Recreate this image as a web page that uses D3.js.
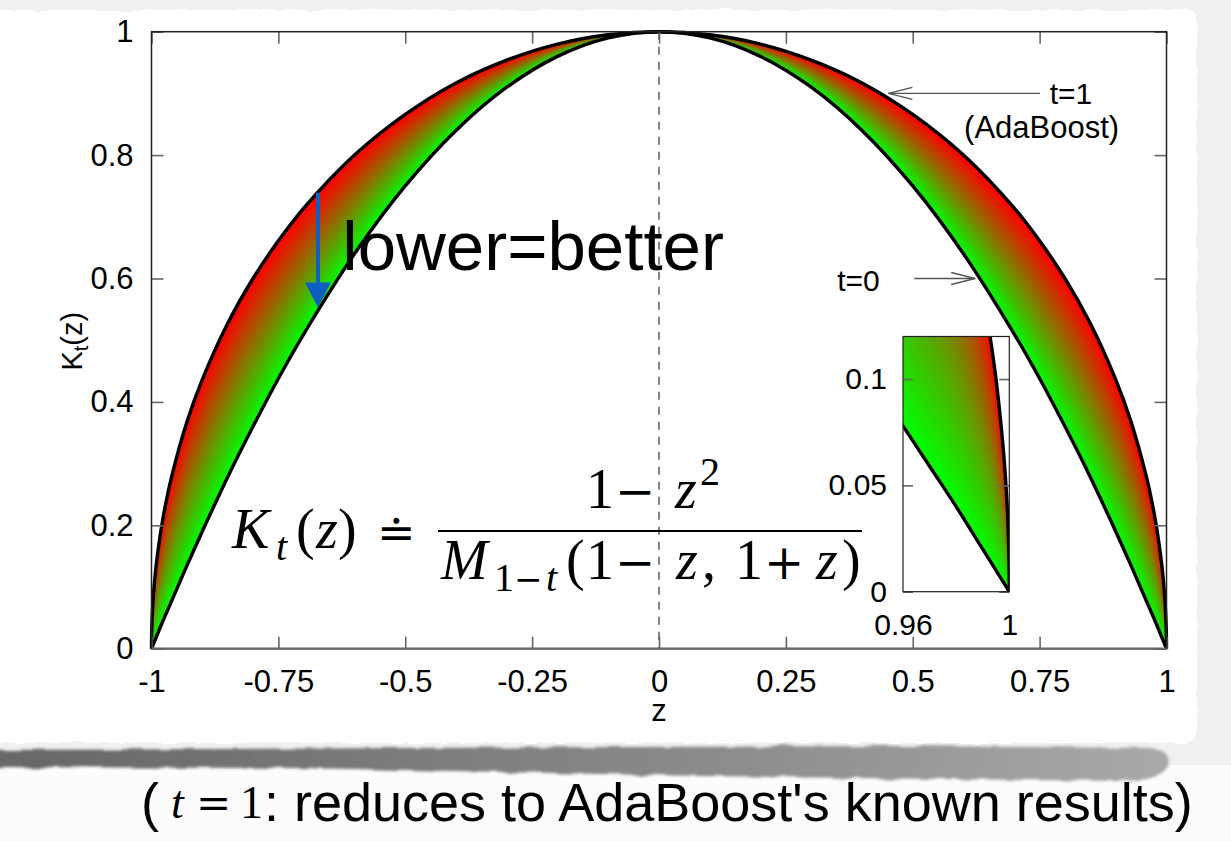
<!DOCTYPE html>
<html>
<head>
<meta charset="utf-8">
<script src="https://cdn.jsdelivr.net/npm/d3@7"></script>
<style>
  body { margin: 0; background: #f1f1f1; }
  svg { display: block; }
</style>
</head>
<body>
<svg id="chart" width="1231" height="841"></svg>
<script>
// values
const zValues = [-1, -0.9999, -0.9995, -0.999, -0.998, -0.997, -0.995, -0.993, -0.99, -0.98, -0.97, -0.96,
  -0.93, -0.9, -0.85, -0.8, -0.75, -0.7, -0.6, -0.5, -0.4, -0.3, -0.2, -0.1, 0,
  0.1, 0.2, 0.3, 0.4, 0.5, 0.6, 0.7, 0.75, 0.8, 0.85, 0.9, 0.93,
  0.96, 0.97, 0.98, 0.99, 0.993, 0.995, 0.997, 0.998, 0.999, 0.9995, 0.9999, 1];
// t=1 (AdaBoost), upper curve
const kAdaBoost = [0, 0.014, 0.032, 0.045, 0.063, 0.077, 0.1, 0.118, 0.141, 0.199, 0.243, 0.28,
  0.368, 0.436, 0.527, 0.6, 0.661, 0.714, 0.8, 0.866, 0.917, 0.954, 0.98, 0.995, 1,
  0.995, 0.98, 0.954, 0.917, 0.866, 0.8, 0.714, 0.661, 0.6, 0.527, 0.436, 0.368,
  0.28, 0.243, 0.199, 0.141, 0.118, 0.1, 0.077, 0.063, 0.045, 0.032, 0.014, 0];
// t=0, lower curve
const kT0 = [0, 0.0002, 0.001, 0.002, 0.004, 0.006, 0.01, 0.014, 0.02, 0.04, 0.059, 0.078,
  0.135, 0.19, 0.278, 0.36, 0.438, 0.51, 0.64, 0.75, 0.84, 0.91, 0.96, 0.99, 1,
  0.99, 0.96, 0.91, 0.84, 0.75, 0.64, 0.51, 0.438, 0.36, 0.278, 0.19, 0.135,
  0.078, 0.059, 0.04, 0.02, 0.014, 0.01, 0.006, 0.004, 0.002, 0.001, 0.0002, 0];

const xTicks = [-1, -0.75, -0.5, -0.25, 0, 0.25, 0.5, 0.75, 1];
const xTickLabels = ["-1", "-0.75", "-0.5", "-0.25", "0", "0.25", "0.5", "0.75", "1"];
const yTicks = [0, 0.2, 0.4, 0.6, 0.8, 1];
const yTickLabels = ["0", "0.2", "0.4", "0.6", "0.8", "1"];
const insetXTicks = [0.96, 1];
const insetXTickLabels = ["0.96", "1"];
const insetYTicks = [0, 0.05, 0.1];
const insetYTickLabels = ["0", "0.05", "0.1"];

const sans = "'Liberation Sans', Arial, sans-serif";
const serif = "'Liberation Serif', 'DejaVu Serif', serif";
const mathOp = "'DejaVu Serif', serif";

const svg = d3.select("#chart");
const defs = svg.append("defs");

// rough paper edge
const rough = defs.append("filter").attr("id", "rough").attr("x", "-5%").attr("y", "-5%")
  .attr("width", "110%").attr("height", "110%");
rough.append("feTurbulence").attr("type", "fractalNoise").attr("baseFrequency", "0.06")
  .attr("numOctaves", 2).attr("seed", 3).attr("result", "noise");
rough.append("feDisplacementMap").attr("in", "SourceGraphic").attr("in2", "noise")
  .attr("scale", 5).attr("xChannelSelector", "R").attr("yChannelSelector", "G");

const blur = defs.append("filter").attr("id", "blur").attr("x", "-5%").attr("y", "-50%")
  .attr("width", "110%").attr("height", "200%");
blur.append("feTurbulence").attr("type", "fractalNoise").attr("baseFrequency", "0.04")
  .attr("numOctaves", 2).attr("seed", 7).attr("result", "noise");
blur.append("feDisplacementMap").attr("in", "SourceGraphic").attr("in2", "noise")
  .attr("scale", 6).attr("xChannelSelector", "R").attr("yChannelSelector", "G").attr("result", "d");
blur.append("feGaussianBlur").attr("in", "d").attr("stdDeviation", 1.6);

const shadowGrad = defs.append("linearGradient").attr("id", "shadowGrad");
shadowGrad.append("stop").attr("offset", "0").attr("stop-color", "#666");
shadowGrad.append("stop").attr("offset", "0.6").attr("stop-color", "#8a8a8a");
shadowGrad.append("stop").attr("offset", "1").attr("stop-color", "#a9a9a9");

// background of the slide
svg.append("rect").attr("width", 1231).attr("height", 841).attr("fill", "#f0f0f0");
svg.append("rect").attr("y", 765).attr("width", 1231).attr("height", 76).attr("fill", "#fcfcfc");

// shadow under the card
svg.append("path")
  .attr("d", "M-10,750 L400,748 L900,746 L1150,748 Q1172,752 1168,766 Q1160,782 1120,781 L700,776 L300,768 L-10,767 Z")
  .attr("fill", "url(#shadowGrad)")
  .attr("filter", "url(#blur)");

// white card
svg.append("path")
  .attr("d", "M-10,10 L1190,10 Q1197,10 1197,18 L1197,730 Q1197,743 1184,743 L-10,743 Z")
  .attr("fill", "#fff")
  .attr("filter", "url(#rough)");

// main plot
const pLeft = 151.5, pRight = 1166.5, pTop = 31.7, pBottom = 648.7;
const x = d3.scaleLinear().domain([-1, 1]).range([pLeft, pRight]);
const y = d3.scaleLinear().domain([0, 1]).range([pBottom, pTop]);

const bandColor = d3.interpolateRgb("#00ff00", "#ff0000");
const shadeSteps = d3.range(90, 0, -1).map(k => k / 90);

function drawBand(g, xs, ys) {
  shadeSteps.forEach(f => {
    const area = d3.area()
      .x((d, i) => xs(zValues[i]))
      .y0((d, i) => ys(kT0[i]))
      .y1((d, i) => ys(kT0[i] + f * (kAdaBoost[i] - kT0[i])))
      .curve(d3.curveCatmullRom.alpha(0.5));
    g.append("path").datum(zValues).attr("d", area).attr("fill", bandColor(f));
  });
  const line = (vals) => d3.line()
    .x((d, i) => xs(zValues[i]))
    .y((d, i) => ys(vals[i]))
    .curve(d3.curveCatmullRom.alpha(0.5));
  g.append("path").datum(zValues).attr("d", line(kAdaBoost))
    .attr("fill", "none").attr("stroke", "#000").attr("stroke-width", 3.4);
  g.append("path").datum(zValues).attr("d", line(kT0))
    .attr("fill", "none").attr("stroke", "#000").attr("stroke-width", 3.4);
}

const plot = svg.append("g");
drawBand(plot, x, y);

// dashed z=0 line
plot.append("line")
  .attr("x1", x(0)).attr("x2", x(0)).attr("y1", pTop).attr("y2", pBottom)
  .attr("stroke", "#333").attr("stroke-width", 1.2).attr("stroke-dasharray", "8,7");

// ticks on all four sides
function styleAxis(size) {
  return g => {
    g.select(".domain").remove();
    g.selectAll(".tick line").attr("stroke", "#666").attr("stroke-width", 1.6);
    g.selectAll("text").attr("font-family", sans).attr("font-size", size).attr("fill", "#000");
  };
}
svg.append("g").attr("transform", `translate(0,${pBottom})`)
  .call(d3.axisBottom(x).tickValues(xTicks).tickSize(-12).tickPadding(21)
    .tickFormat((d, i) => xTickLabels[i]))
  .call(styleAxis(31));
svg.append("g").attr("transform", `translate(0,${pTop})`)
  .call(d3.axisTop(x).tickValues(xTicks).tickSize(-12).tickFormat(""))
  .call(styleAxis(31));
svg.append("g").attr("transform", `translate(${pLeft},0)`)
  .call(d3.axisLeft(y).tickValues(yTicks).tickSize(-12).tickPadding(18)
    .tickFormat((d, i) => yTickLabels[i]))
  .call(styleAxis(31));
svg.append("g").attr("transform", `translate(${pRight},0)`)
  .call(d3.axisRight(y).tickValues(yTicks).tickSize(-12).tickFormat(""))
  .call(styleAxis(31));

svg.append("rect")
  .attr("x", pLeft).attr("y", pTop).attr("width", pRight - pLeft).attr("height", pBottom - pTop)
  .attr("fill", "none").attr("stroke", "#222").attr("stroke-width", 1.5);
svg.append("line").attr("x1", pLeft).attr("x2", pRight).attr("y1", pBottom).attr("y2", pBottom)
  .attr("stroke", "#666").attr("stroke-width", 2.2);

// axis titles
svg.append("text").attr("x", x(0)).attr("y", 721).attr("text-anchor", "middle")
  .attr("font-family", sans).attr("font-size", 31).text("z");
const yTitle = svg.append("text")
  .attr("transform", `translate(82,${y(0.5) + 1}) rotate(-90)`)
  .attr("text-anchor", "middle").attr("font-family", sans).attr("font-size", 29);
yTitle.append("tspan").text("K");
yTitle.append("tspan").attr("font-size", 20).attr("dy", 6).text("t");
yTitle.append("tspan").attr("dy", -6).text("(z)");

// annotations
const annColor = "#555";
function pointer(zTail, zTip, k) {
  const g = svg.append("g").attr("stroke", annColor).attr("stroke-width", 1.3).attr("fill", "none");
  g.append("line").attr("x1", x(zTail)).attr("x2", x(zTip)).attr("y1", y(k)).attr("y2", y(k));
  const dir = zTip < zTail ? 1 : -1;
  g.append("path").attr("d",
    `M${x(zTip) + dir * 24},${y(k) - 6} L${x(zTip)},${y(k)} L${x(zTip) + dir * 24},${y(k) + 6}`);
}
pointer(0.751, 0.452, 0.9);
svg.append("text").attr("x", x(0.77)).attr("y", y(0.9) + 11).attr("font-family", sans)
  .attr("font-size", 30).text("t=1");
svg.append("text").attr("x", x(0.754)).attr("y", 138).attr("text-anchor", "middle")
  .attr("font-family", sans).attr("font-size", 31).text("(AdaBoost)");

pointer(0.503, 0.623, 0.6);
svg.append("text").attr("x", x(0.351)).attr("y", y(0.6) + 12).attr("font-family", sans)
  .attr("font-size", 30).text("t=0");

// lower = better
svg.append("text").attr("x", x(-0.624)).attr("y", 270).attr("font-family", sans)
  .attr("font-size", 69).text("lower=better");
const ax = x(-0.672), ay0 = y(0.739), ay1 = y(0.553);
svg.append("path")
  .attr("d", `M${ax - 2},${ay0} L${ax + 2},${ay0} L${ax + 2},${ay1 - 25} L${ax + 13},${ay1 - 25}
    L${ax},${ay1} L${ax - 13},${ay1 - 25} L${ax - 2},${ay1 - 25} Z`)
  .attr("fill", "#0f5fc2");

// formula, typeset piece by piece
const fs = 56, fsSub = 40;
const f = svg.append("g").attr("fill", "#000");
function piece(txt, px, py, opts = {}) {
  f.append("text").attr("x", px).attr("y", py)
    .attr("font-family", opts.op ? mathOp : serif)
    .attr("font-size", opts.size || fs)
    .attr("font-style", opts.it ? "italic" : "normal")
    .text(txt);
}
// left side
piece("K", 232, 548, { it: true });
piece("t", 276, 560, { it: true, size: fsSub });
piece("(", 296, 548);
piece("z", 316, 548, { it: true });
piece(")", 338, 548);
piece("\u2250", 377, 548, { op: true, size: 46 });
// numerator
piece("1", 586, 508);
piece("\u2212", 615, 508, { op: true, size: 48 });
piece("z", 675, 508, { it: true });
piece("2", 700, 485, { size: fsSub });
f.append("line").attr("x1", 438).attr("x2", 862).attr("y1", 531).attr("y2", 531)
  .attr("stroke", "#000").attr("stroke-width", 2.2);
// denominator
piece("M", 441, 579, { it: true });
piece("1", 494, 591, { size: fsSub });
piece("\u2212", 514, 591, { op: true, size: 34 });
piece("t", 546, 591, { it: true, size: fsSub });
piece("(", 566, 579);
piece("1", 586, 579);
piece("\u2212", 615, 579, { op: true, size: 48 });
piece("z", 676, 579, { it: true });
piece(",", 702, 579);
piece("1", 735, 579);
piece("+", 764, 579, { op: true, size: 48 });
piece("z", 816, 579, { it: true });
piece(")", 842, 579);

// inset zoom near z = 1
const iLeft = 903, iRight = 1009.3, iTop = 336.5, iBottom = 591.7;
const xi = d3.scaleLinear().domain([0.96, 1]).range([iLeft, iRight]);
const yi = d3.scaleLinear().domain([0, 0.12]).range([iBottom, iTop]);
defs.append("clipPath").attr("id", "insetClip").append("rect")
  .attr("x", iLeft).attr("y", iTop).attr("width", iRight - iLeft).attr("height", iBottom - iTop);
svg.append("rect").attr("x", iLeft).attr("y", iTop).attr("width", iRight - iLeft)
  .attr("height", iBottom - iTop).attr("fill", "#fff");
const inset = svg.append("g").attr("clip-path", "url(#insetClip)");
drawBand(inset, xi, yi);

svg.append("g").attr("transform", `translate(${iLeft},0)`)
  .call(d3.axisLeft(yi).tickValues(insetYTicks).tickSize(-10).tickPadding(16)
    .tickFormat((d, i) => insetYTickLabels[i]))
  .call(styleAxis(30));
svg.append("g").attr("transform", `translate(${iRight},0)`)
  .call(d3.axisRight(yi).tickValues(insetYTicks).tickSize(-10).tickFormat(""))
  .call(styleAxis(30));
svg.append("g").attr("transform", `translate(0,${iBottom})`)
  .call(d3.axisBottom(xi).tickValues(insetXTicks).tickSize(0).tickPadding(22)
    .tickFormat((d, i) => insetXTickLabels[i]))
  .call(styleAxis(30));
svg.append("rect").attr("x", iLeft).attr("y", iTop).attr("width", iRight - iLeft)
  .attr("height", iBottom - iTop).attr("fill", "none").attr("stroke", "#222").attr("stroke-width", 1.2);

// caption
const cap = svg.append("g").attr("fill", "#000");
cap.append("text").attr("x", 141).attr("y", 821).attr("font-family", sans).attr("font-size", 54).text("(");
cap.append("text").attr("x", 171).attr("y", 818).attr("font-family", serif).attr("font-size", 46)
  .attr("font-style", "italic").text("t");
cap.append("text").attr("x", 196).attr("y", 818).attr("font-family", mathOp).attr("font-size", 42).text("=");
cap.append("text").attr("x", 240).attr("y", 818).attr("font-family", serif).attr("font-size", 46).text("1");
cap.append("text").attr("x", 264).attr("y", 821).attr("font-family", sans).attr("font-size", 54)
  .text(": reduces to AdaBoost's known results)");
</script>
</body>
</html>
